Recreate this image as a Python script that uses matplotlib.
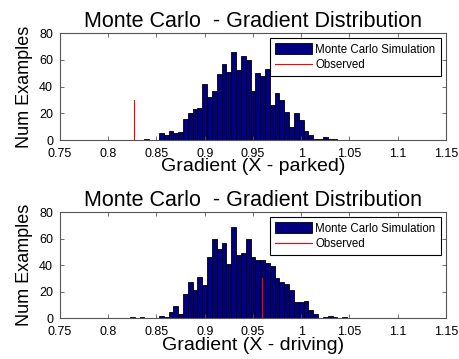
import numpy as np
import matplotlib
matplotlib.use("Agg")
import matplotlib.pyplot as plt

plt.rcParams['font.family'] = ['Liberation Sans', 'DejaVu Sans']

# histogram counts, bins 0.005 wide
park_start = 0.84
park_counts = [1, 0, 0, 5, 4, 7, 5, 6, 16, 20, 23, 24, 42, 32, 37, 49, 57, 51, 66, 52,
               63, 60, 37, 50, 48, 53, 26, 35, 30, 21, 10, 20, 15, 7, 4, 1, 1, 2, 1, 1]
drive_start = 0.825
drive_counts = [1, 0, 1, 0, 0, 0, 2, 1, 5, 9, 3, 18, 27, 21, 31, 25, 46, 60, 52, 57,
                41, 69, 48, 49, 60, 46, 44, 44, 42, 39, 30, 27, 26, 21, 12, 12, 13, 6, 3, 0,
                1, 2, 1, 0, 1]
bin_w = 0.005

# observed gradients
park_obs = 0.827
drive_obs = 0.959
obs_height = 30

xticks = [0.75, 0.8, 0.85, 0.9, 0.95, 1.0, 1.05, 1.1, 1.15]
xtick_labels = ['0.75', '0.8', '0.85', '0.9', '0.95', '1', '1.05', '1.1', '1.15']
yticks = [0, 20, 40, 60, 80]

fig = plt.figure(figsize=(4.6, 3.59), dpi=100)
ax1 = fig.add_axes([0.1304, 0.610, 0.839, 0.298])
ax2 = fig.add_axes([0.1304, 0.1134, 0.839, 0.296])

panels = [(ax1, park_start, park_counts, park_obs, 'Gradient (X - parked)'),
          (ax2, drive_start, drive_counts, drive_obs, 'Gradient (X - driving)')]

for ax, start, counts, obs, xlab in panels:
    centers = start + bin_w * np.arange(len(counts))
    bars = ax.bar(centers, counts, width=bin_w, color='#000080', edgecolor='black',
                  linewidth=0.6)
    line, = ax.plot([obs, obs], [0, obs_height], color='red', linewidth=0.8)
    ax.set_xlim(0.75, 1.15)
    ax.set_ylim(0, 80)
    ax.set_xticks(xticks)
    ax.set_xticklabels(xtick_labels)
    ax.set_yticks(yticks)
    ax.tick_params(direction='in', top=True, right=True, labelsize=9,
                   length=3, width=0.6, color='#555555')
    ax.tick_params(axis='x', pad=5.5)
    ax.tick_params(axis='y', pad=5)
    for s in ax.spines.values():
        s.set_linewidth(0.8)
        s.set_color('#555555')
    ax.set_title('Monte Carlo  - Gradient Distribution', fontsize=15.5, pad=4)
    ax.set_xlabel(xlab, fontsize=14, labelpad=-1)
    ax.set_ylabel('Num Examples', fontsize=13, labelpad=4)
    leg = ax.legend([bars, line], ['Monte Carlo Simulation', 'Observed'],
                    loc='upper right', fontsize=8.3, fancybox=False, framealpha=1,
                    edgecolor='black', handlelength=3.2, handleheight=1.0,
                    borderaxespad=0.45, borderpad=0.45, labelspacing=0.3,
                    handletextpad=0.3)
    leg.get_frame().set_linewidth(0.8)

plt.savefig('out.png', dpi=100)
